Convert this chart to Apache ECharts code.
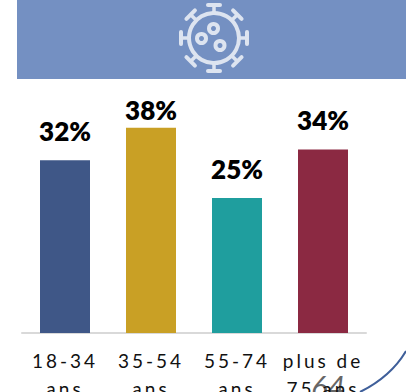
<!DOCTYPE html>
<html><head><meta charset="utf-8">
<script src="https://cdn.jsdelivr.net/npm/echarts@6/dist/echarts.min.js"></script>
<style>
html,body{margin:0;padding:0;background:#fff;overflow:hidden}
#c{width:406px;height:392px}
</style></head><body><div id="c"></div>
<script>
const categories = ['18-34\nans','35-54\nans','55-74\nans','plus de\n75 ans'];
const values = [32,38,25,34];
const barColors = ['#3F5787','#C9A025','#1F9E9E','#8B2942'];
const pageNumber = '64';

const iconColor = '#DDE4F0';
const cx = 214, cy = 38;
const iconEls = [
  {type:'circle',shape:{cx:cx,cy:cy,r:25},style:{fill:'none',stroke:iconColor,lineWidth:4}},
  {type:'circle',shape:{cx:201.5,cy:38.5,r:4.5},style:{fill:'none',stroke:iconColor,lineWidth:4}},
  {type:'circle',shape:{cx:213.5,cy:28.5,r:4.5},style:{fill:'none',stroke:iconColor,lineWidth:4}},
  {type:'circle',shape:{cx:220,cy:45.5,r:4.5},style:{fill:'none',stroke:iconColor,lineWidth:4}}
];
for (let i=0;i<8;i++){
  const a=i*Math.PI/4, c=Math.cos(a), s=Math.sin(a);
  iconEls.push({type:'line',shape:{x1:cx+25*c,y1:cy+25*s,x2:cx+33*c,y2:cy+33*s},style:{stroke:iconColor,lineWidth:3.5}});
  iconEls.push({type:'line',shape:{x1:cx+33*c-6*s,y1:cy+33*s+6*c,x2:cx+33*c+6*s,y2:cy+33*s-6*c},style:{stroke:iconColor,lineWidth:4,lineCap:'round'}});
}

const chart = echarts.init(document.getElementById('c'),null,{renderer:'svg',width:406,height:392});
chart.setOption({
  animation:false,
  grid:{left:22,right:40,top:117,bottom:59,outerBoundsMode:'none'},
  xAxis:{type:'category',data:categories,
    axisTick:{show:false},
    axisLine:{lineStyle:{color:'#D9D9D9',width:2}},
    axisLabel:{interval:0,color:'#111',fontFamily:'Lato',fontSize:19,lineHeight:28,margin:13,align:'center',hideOverlap:false}},
  yAxis:{type:'value',min:0,max:40,show:false,splitLine:{show:false}},
  series:[{type:'bar',barWidth:50,
    data:values.map((v,i)=>({value:v,itemStyle:{color:barColors[i]},
      label:{distance: v===38 ? 5 : 16}})),
    label:{show:true,position:'top',formatter:'{c}%',color:'#000',fontFamily:'Lato',fontWeight:800,fontSize:26}}],
  graphic:[
    {type:'rect',z:-1,shape:{x:17,y:0,width:389,height:79},style:{fill:'#7490C2'}},
    {type:'group',children:iconEls},
    {type:'bezierCurve',shape:{x1:360,y1:392,cpx1:380,cpy1:382,cpx2:396,cpy2:368,x2:406,y2:351},style:{fill:'none',stroke:'#3F5F9A',lineWidth:2}},
    {type:'text',x:311,y:370,style:{text:pageNumber,fontFamily:'Lato',fontStyle:'italic',fontSize:31,fill:'#666'}}
  ]
});
document.querySelectorAll('#c svg text').forEach(t=>{
  if(/^(18-34|35-54|55-74|plus de|75 ans|ans)$/.test(t.textContent.trim())) t.style.letterSpacing='3px';
});
</script></body></html>
